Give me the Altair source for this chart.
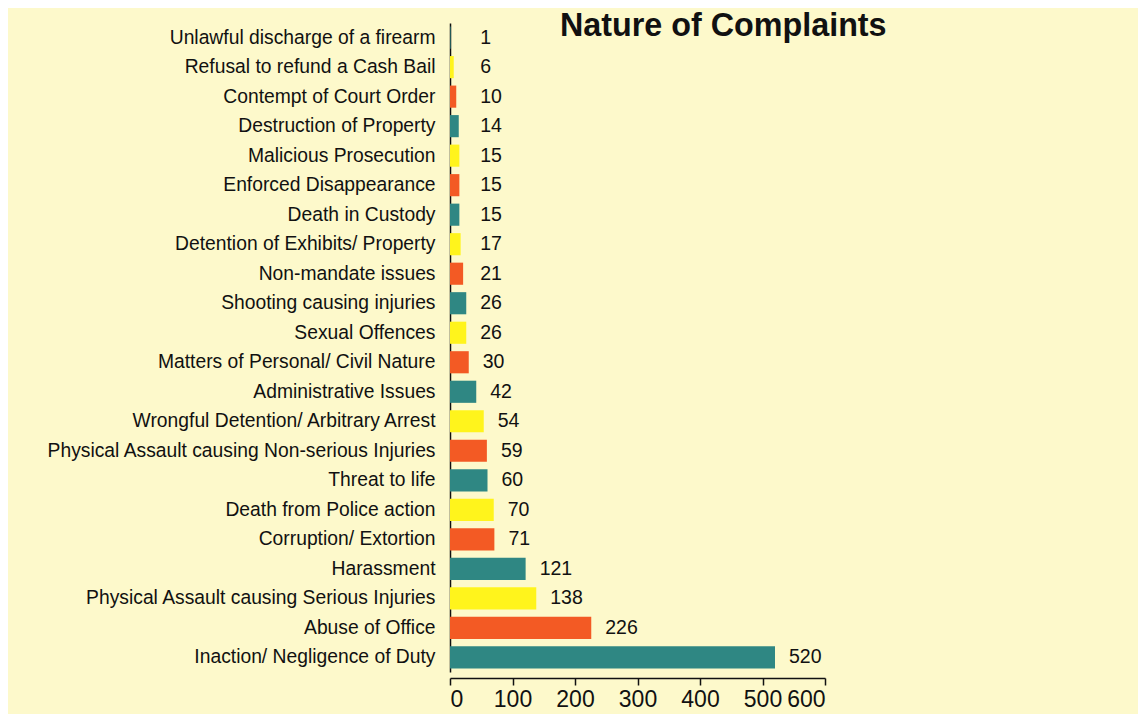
import altair as alt
import pandas as pd

categories = [
    "Unlawful discharge of a firearm",
    "Refusal to refund a Cash Bail",
    "Contempt of Court Order",
    "Destruction of Property",
    "Malicious Prosecution",
    "Enforced Disappearance",
    "Death in Custody",
    "Detention of Exhibits/ Property",
    "Non-mandate issues",
    "Shooting causing injuries",
    "Sexual Offences",
    "Matters of Personal/ Civil Nature",
    "Administrative Issues",
    "Wrongful Detention/ Arbitrary Arrest",
    "Physical Assault causing Non-serious Injuries",
    "Threat to life",
    "Death from Police action",
    "Corruption/ Extortion",
    "Harassment",
    "Physical Assault causing Serious Injuries",
    "Abuse of Office",
    "Inaction/ Negligence of Duty",
]
values = [1, 6, 10, 14, 15, 15, 15, 17, 21, 26, 26, 30, 42, 54, 59, 60, 70, 71, 121, 138, 226, 520]
color_groups = ["teal", "yellow", "red", "teal", "yellow", "red", "teal", "yellow", "red", "teal", "yellow",
                "red", "teal", "yellow", "red", "teal", "yellow", "red", "teal", "yellow", "red", "teal"]
x_ticks = [0, 100, 200, 300, 400, 500, 600]

df = pd.DataFrame({"category": categories, "value": values, "group": color_groups})

FONT = "Liberation Sans"
y_enc = alt.Y("category:N", sort=categories, title=None,
              scale=alt.Scale(paddingInner=0.25, paddingOuter=0.12),
              axis=alt.Axis(ticks=False, labelFontSize=19.3, labelFont=FONT, labelColor="#111",
                            labelPadding=15, domainColor="#111", domainWidth=1.5, labelLimit=500))
x_scale = alt.Scale(domain=[0, 600], nice=False)

bars = alt.Chart(df).mark_bar(cornerRadius=0).encode(
    x=alt.X("value:Q", scale=x_scale, title=None,
            axis=alt.Axis(values=x_ticks, grid=False, labelFontSize=23, labelFont=FONT, labelColor="#111",
                          domainColor="#111", domainWidth=1.5, tickColor="#111", tickSize=7, tickWidth=1.5,
                          labelPadding=3, offset=6)),
    y=y_enc,
    color=alt.Color("group:N", scale=alt.Scale(domain=["teal", "red", "yellow"],
                                               range=["#2f8783", "#f35a24", "#fff41c"]), legend=None),
)

labels = alt.Chart(df).transform_calculate(lx="max(datum.value, 26)").mark_text(
    align="left", baseline="middle", dx=14, fontSize=19.5, font=FONT, color="#111"
).encode(
    x=alt.X("lx:Q", scale=x_scale),
    y=alt.Y("category:N", sort=categories),
    text="value:Q",
)

title_df = pd.DataFrame({"t": ["Nature of Complaints"]})
title = alt.Chart(title_df).mark_text(
    align="left", baseline="alphabetic", fontSize=32.3, fontWeight="bold", font=FONT, color="#111"
).encode(x=alt.value(110), y=alt.value(13), text="t:N")

chart = alt.layer(bars, labels, title).properties(
    width=375, height=649,
    autosize=alt.AutoSizeParams(type="none"),
    padding={"left": 442, "top": 15, "right": 313, "bottom": 42},
    background="#fdf9cb",
).configure_view(stroke=None)

chart.save("out.html", embed_options={"renderer": "svg", "actions": False})
